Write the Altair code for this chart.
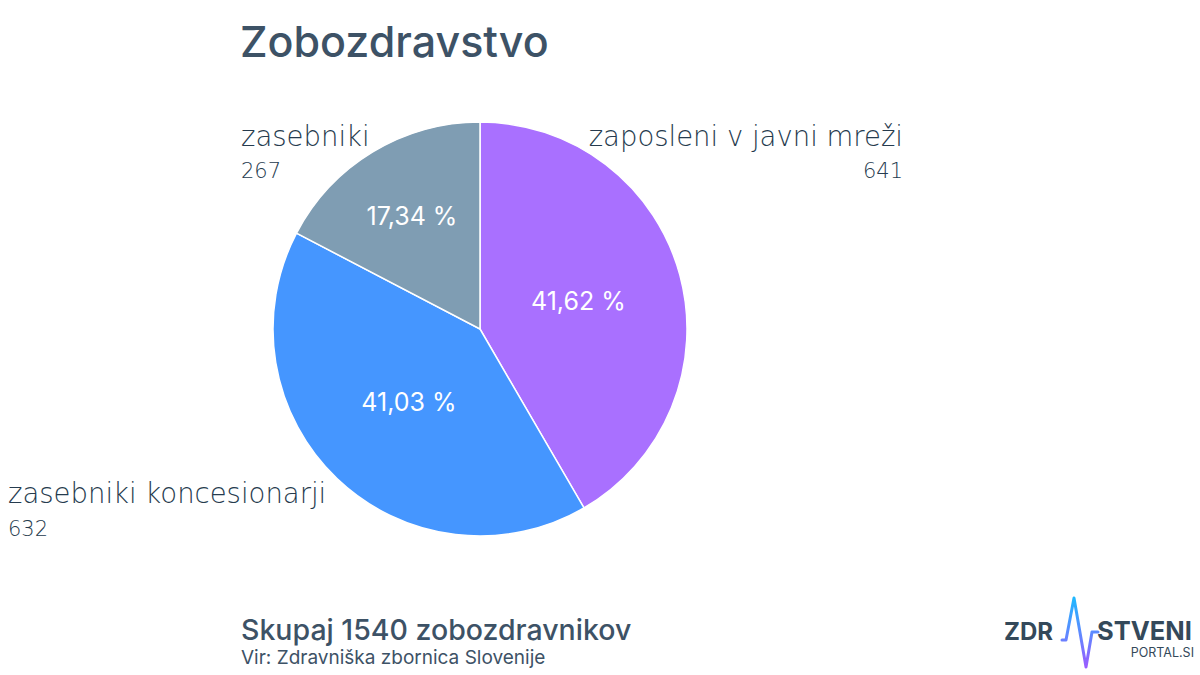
import altair as alt
import pandas as pd

# ---- data ----
categories = ["zaposleni v javni mreži", "zasebniki koncesionarji", "zasebniki"]
counts = [641, 632, 267]
percent_labels = ["41,62 %", "41,03 %", "17,34 %"]
colors = ["#A970FF", "#4596FF", "#7F9DB3"]
total_label = "Skupaj 1540 zobozdravnikov"
title_text = "Zobozdravstvo"
source_text = "Vir: Zdravniška zbornica Slovenije"

# ---- layout / style (not data) ----
W, H = 1200, 675
CX, CY, R = 480, 329, 207
TXT = "#3D5266"
LTXT = "#263B4E"
FONT = "Inter"
LFONT = "DejaVu Sans"

df = pd.DataFrame({
    "cat": categories,
    "value": counts,
    "pct": percent_labels,
    "order": list(range(len(categories))),
})

color_scale = alt.Scale(domain=categories, range=colors)

pie = alt.Chart(df).mark_arc(radius=R, stroke="white", strokeWidth=1.5).encode(
    theta=alt.Theta("value:Q", stack=True),
    order=alt.Order("order:Q"),
    color=alt.Color("cat:N", scale=color_scale, legend=None),
    x=alt.value(CX), y=alt.value(CY),
)

# percent labels at slice centroids (computed from the values)
pct = alt.Chart(df).transform_joinaggregate(
    total="sum(value)"
).transform_window(
    cum="sum(value)", sort=[alt.SortField("order")], frame=[None, 0]
).transform_calculate(
    a="PI*datum.value/datum.total",
    tm="2*PI*(datum.cum - datum.value/2)/datum.total",
    cr=f"2*{R}*sin(datum.a)/(3*datum.a)",
).transform_calculate(
    px=f"{CX} + datum.cr*sin(datum.tm)",
    py=f"{CY} - datum.cr*cos(datum.tm)",
).mark_text(font=FONT, fontSize=25, color="white", align="center", baseline="middle").encode(
    text="pct:N",
    x=alt.X("px:Q", scale=None),
    y=alt.Y("py:Q", scale=None),
)

def txt(s, x, y, size, weight="normal", color=TXT, align="left", font=FONT, baseline="alphabetic"):
    one = pd.DataFrame({"t": [s]})
    return alt.Chart(one).mark_text(font=font, fontSize=size, fontWeight=weight, color=color,
                                    align=align, baseline=baseline).encode(
        x=alt.value(x), y=alt.value(y), text="t:N")

# outside category labels (annotation positions)
label_pos = {
    "zaposleni v javni mreži": (903, "right", 146, 178),
    "zasebniki": (241, "left", 146, 178),
    "zasebniki koncesionarji": (8, "left", 503, 536),
}
layers = [pie, pct]
for cat, cnt in zip(categories, counts):
    x, al, y1, y2 = label_pos[cat]
    layers.append(txt(cat, x, y1, 27.5, 200, LTXT, al, LFONT))
    layers.append(txt(str(cnt), x, y2, 21, 200, LTXT, al, LFONT))

layers.append(txt(title_text, 240, 57, 43, 500))
layers.append(txt(total_label, 241, 640, 28.5, 500))
layers.append(txt(source_text, 241, 664, 19, "normal"))

# logo
LOGO = "#34495A"
layers.append(txt("ZDR", 1004, 640, 24, "bold", LOGO))
layers.append(txt("STVENI", 1097, 640, 25.5, "bold", LOGO))
layers.append(txt("PORTAL.SI", 1194, 647, 12.5, "normal", LOGO, align="right", baseline="top"))
logo_x = [1062, 1066, 1074, 1086, 1092, 1098]
logo_y = [640, 640, 598, 667, 632, 632]
logo = pd.DataFrame({"x": logo_x, "y": logo_y, "i": range(len(logo_x))})
layers.append(alt.Chart(logo).mark_line(
    strokeWidth=3, strokeCap="round", strokeJoin="round",
    stroke=alt.Gradient(gradient="linear",
                        stops=[alt.GradientStop(color="#1FB8FF", offset=0),
                               alt.GradientStop(color="#9A5CFF", offset=1)],
                        x1=0, x2=0, y1=0, y2=1),
).encode(x=alt.X("x:Q", scale=None), y=alt.Y("y:Q", scale=None), order="i:Q"))

chart = alt.layer(*layers).properties(
    width=W, height=H, padding=0, autosize=alt.AutoSizeParams(type="none"),
    background="white",
).configure_view(stroke=None)

chart.save("out.html", embed_options={"renderer": "svg", "actions": False})
